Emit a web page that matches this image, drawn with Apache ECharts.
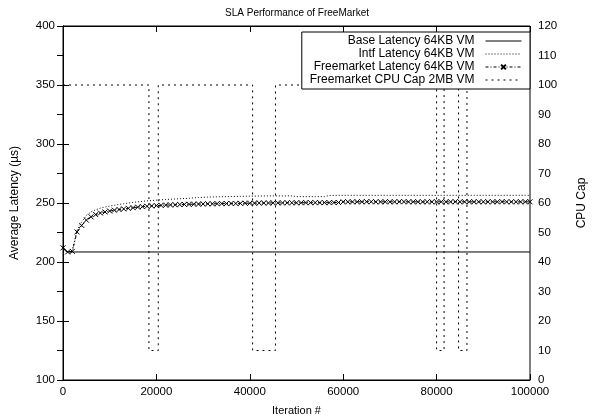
<!DOCTYPE html>
<html>
<head>
<meta charset="utf-8">
<script src="https://cdn.jsdelivr.net/npm/echarts@6/dist/echarts.min.js"></script>
<style>html,body{margin:0;padding:0;background:#fff;}#c{width:594px;height:419px;}</style>
</head>
<body>
<div id="c"></div>
<script>
const iterations = [0,1000,2000,3000,4000,5000,6000,7000,8000,9000,10000,11000,12000,13000,14000,15000,16000,17000,18000,19000,20000,21000,22000,23000,24000,25000,26000,27000,28000,29000,30000,31000,32000,33000,34000,35000,36000,37000,38000,39000,40000,41000,42000,43000,44000,45000,46000,47000,48000,49000,50000,51000,52000,53000,54000,55000,56000,57000,58000,59000,60000,61000,62000,63000,64000,65000,66000,67000,68000,69000,70000,71000,72000,73000,74000,75000,76000,77000,78000,79000,80000,81000,82000,83000,84000,85000,86000,87000,88000,89000,90000,91000,92000,93000,94000,95000,96000,97000,98000,99000,100000];
const intfLatency = [213,208,210,227,234,239.5,242.5,244.3,245.6,246.6,247.4,248.1,248.8,249.4,250,250.5,251,251.4,251.8,252.1,252.4,252.7,253,253.2,253.4,253.6,253.8,254,254.4,254.6,254.8,255,255.1,255.2,255.3,255.4,255.5,255.6,255.6,255.7,255.8,255.8,255.9,256,256,256,256,256,256,256,255.4,255.4,255.4,255.4,255.4,255.4,255.4,256.3,256.4,256.5,256.5,256.5,256.5,256.5,256.5,256.5,256.5,256.5,256.5,256.5,256.5,256.5,256.5,256.5,256.5,256.5,256.5,256.5,256.5,256.5,256.5,256.5,256.5,256.5,256.5,256.5,256.5,256.5,256.5,256.5,256.5,256.5,256.5,256.5,256.5,256.5,256.5,256.5,256.5,256.5,256.5];
const fmLatency = [212,208.5,209,225.5,231,235.5,238.3,240.2,241.5,242.4,243.2,243.9,244.5,245,245.5,246,246.5,246.9,247.2,247.5,247.8,248,248.2,248.4,248.5,248.7,248.8,248.9,249,249.1,249.2,249.3,249.3,249.4,249.5,249.5,249.6,249.6,249.7,249.8,249.8,249.9,250,250,250,250.1,250.1,250.1,250.2,250.2,250.2,250.2,250.3,250.3,250.3,250.3,250.3,250.3,250.4,250.4,251,251,251,251,251,251.1,251.1,251,251,251,251,251,251.1,251.1,251,251,251,251,251,251,251,251,251,251,251.1,251,251,251,251,251,251,251,251,251,251.1,251,251,251,251,251,251];
const baseIters = [0,500,1000,100000];
const baseLatency = [213,209.5,208.5,208.5];
const capIters = [0,18400,18400,20400,20400,40600,40600,45500,45500,80000,80000,81600,81600,84700,84700,86500,86500,100000];
const capValues = [100,100,10,10,100,100,10,10,100,100,10,10,100,100,10,10,100,100];
const xTicks = {min:0,max:100000,interval:20000};
const yLeft = {min:100,max:400,interval:50};
const yRight = {min:0,max:120,interval:10};

const zip = (a,b)=>a.map((v,i)=>[v,b[i]]);
const font = 'Liberation Sans, Arial, Helvetica, sans-serif';
const chart = echarts.init(document.getElementById('c'), null, {renderer:'canvas'});
const axisCommon = {
  axisLine:{show:true,lineStyle:{color:'#000',width:1}},
  axisTick:{show:true,inside:true,length:6,lineStyle:{color:'#000'}},
  splitLine:{show:false},
  axisLabel:{color:'#000',fontFamily:font,fontSize:11.5,formatter:v=>String(v)},
  nameTextStyle:{color:'#000',fontFamily:font,fontSize:11.5}
};
const xMarker = 'path://M0,0L10,10M10,0L0,10';
const hiddenSym = {opacity:0};
chart.setOption({
  animation:false,
  backgroundColor:'#fff',
  title:{text:'SLA Performance of FreeMarket',left:'center',top:3,textStyle:{fontFamily:font,fontSize:10,fontWeight:'normal',color:'#000'}},
  grid:{left:63,right:64,top:26,bottom:39,show:true,borderColor:'#000',borderWidth:1,outerBoundsMode:'none',containLabel:false},
  legend:{
    orient:'vertical',right:64,top:32,align:'right',
    itemWidth:36,itemHeight:6,itemGap:1,
    padding:[3,8,3,8],
    borderColor:'#000',borderWidth:1,
    backgroundColor:'#fff',
    lineStyle:{width:1},
    textStyle:{fontFamily:font,fontSize:12,color:'#000',padding:[0,6,0,0]},
    data:[
      {name:'Base Latency 64KB VM',itemStyle:hiddenSym},
      {name:'Intf Latency 64KB VM',itemStyle:hiddenSym},
      {name:'Freemarket Latency 64KB VM'},
      {name:'Freemarket CPU Cap 2MB VM',itemStyle:hiddenSym}
    ]
  },
  xAxis:[
    Object.assign({},axisCommon,{type:'value',position:'bottom',min:xTicks.min,max:xTicks.max,interval:xTicks.interval,name:'Iteration #',nameLocation:'middle',nameGap:25,axisLabel:Object.assign({},axisCommon.axisLabel,{margin:6}),nameTextStyle:Object.assign({},axisCommon.nameTextStyle,{fontSize:11})}),
    Object.assign({},axisCommon,{type:'value',position:'top',min:xTicks.min,max:xTicks.max,interval:xTicks.interval,axisLabel:{show:false}})
  ],
  yAxis:[
    Object.assign({},axisCommon,{type:'value',position:'left',min:yLeft.min,max:yLeft.max,interval:yLeft.interval,name:'Average Latency (\u00b5s)',nameLocation:'middle',nameGap:42,axisLabel:Object.assign({},axisCommon.axisLabel,{margin:8}),nameTextStyle:Object.assign({},axisCommon.nameTextStyle,{fontSize:12})}),
    Object.assign({},axisCommon,{type:'value',position:'right',min:yRight.min,max:yRight.max,interval:yRight.interval,name:'CPU Cap',nameLocation:'middle',nameGap:46,axisLabel:Object.assign({},axisCommon.axisLabel,{margin:8}),nameTextStyle:Object.assign({},axisCommon.nameTextStyle,{fontSize:12})})
  ],
  series:[
    {name:'Base Latency 64KB VM',type:'line',xAxisIndex:0,yAxisIndex:0,data:zip(baseIters,baseLatency),symbol:'none',lineStyle:{color:'#000',width:1},itemStyle:{color:'#000'}},
    {name:'Intf Latency 64KB VM',type:'line',xAxisIndex:0,yAxisIndex:0,data:zip(iterations,intfLatency),symbol:'none',lineStyle:{color:'#000',width:1,type:[1,2]},itemStyle:{color:'#000'}},
    {name:'Freemarket Latency 64KB VM',type:'line',xAxisIndex:0,yAxisIndex:0,data:zip(iterations,fmLatency),symbol:xMarker,symbolSize:5,showSymbol:true,showAllSymbol:true,lineStyle:{color:'#000',width:1,type:[3,2,1,2]},itemStyle:{color:'none',borderColor:'#000',borderWidth:1}},
    {name:'Freemarket CPU Cap 2MB VM',type:'line',xAxisIndex:0,yAxisIndex:1,data:zip(capIters,capValues),symbol:'none',lineStyle:{color:'#000',width:1,type:[2,4]},itemStyle:{color:'#000'}}
  ]
});
</script>
</body>
</html>
